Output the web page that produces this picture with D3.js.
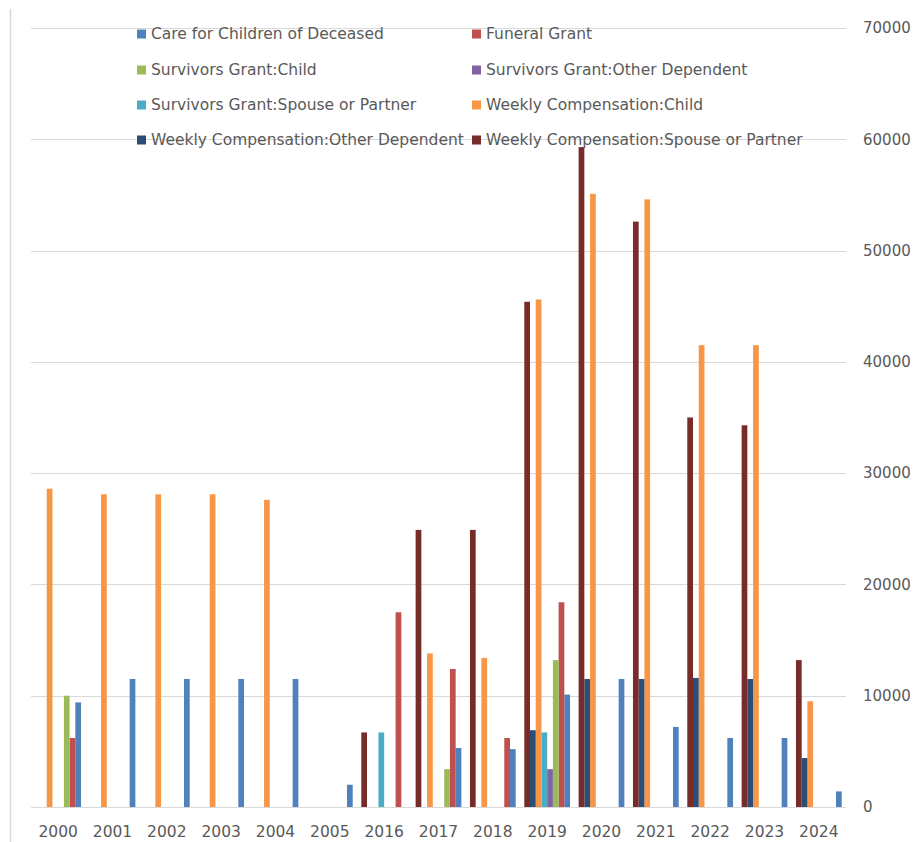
<!DOCTYPE html>
<html>
<head>
<meta charset="utf-8">
<script src="https://cdn.jsdelivr.net/npm/d3@7"></script>
<style>
  html, body { margin: 0; padding: 0; background: #fff; }
  svg { display: block; }
  text { font-family: "DejaVu Sans", sans-serif; fill: #595959; }
</style>
</head>
<body>
<svg id="chart" width="913" height="842"></svg>
<script>
// Categories on the x axis
const years = ["2000","2001","2002","2003","2004","2005","2016","2017","2018","2019","2020","2021","2022","2023","2024"];

// Series names, in legend order
const seriesNames = [
  "Care for Children of Deceased",
  "Funeral Grant",
  "Survivors Grant:Child",
  "Survivors Grant:Other Dependent",
  "Survivors Grant:Spouse or Partner",
  "Weekly Compensation:Child",
  "Weekly Compensation:Other Dependent",
  "Weekly Compensation:Spouse or Partner"
];
const seriesColors = ["#4F81BD","#C0504D","#9BBB59","#8064A2","#4BACC6","#F79646","#2C4D75","#772C2A"];

// Values per year (null = no entry)
const careForChildren   = [9400, 11500, 11500, 11500, 11500, 2000, null, 5300, 5200, 10100, 11500, 7200, 6200, 6200, 1400];
const funeralGrant      = [6200, null, null, null, null, null, 17500, 12400, 6200, 18400, null, null, null, null, null];
const sgChild           = [10000, null, null, null, null, null, null, 3400, null, 13200, null, null, null, null, null];
const sgOtherDependent  = [null, null, null, null, null, null, null, null, null, 3400, null, null, null, null, null];
const sgSpouse          = [null, null, null, null, null, null, 6700, null, null, 6700, null, null, null, null, null];
const wcChild           = [28600, 28100, 28100, 28100, 27600, null, null, 13800, 13400, 45600, 55100, 54600, 41500, 41500, 9500];
const wcOtherDependent  = [null, null, null, null, null, null, null, null, null, 6900, 11500, 11500, 11600, 11500, 4400];
const wcSpouse          = [null, null, null, null, null, null, 6700, 24900, 24900, 45400, 59300, 52600, 35000, 34300, 13200];

const seriesValues = [careForChildren, funeralGrant, sgChild, sgOtherDependent, sgSpouse, wcChild, wcOtherDependent, wcSpouse];

const yTicks = [0, 10000, 20000, 30000, 40000, 50000, 60000, 70000];

const svg = d3.select("#chart");

// Plot geometry
const plot = { left: 31, right: 846, top: 28, bottom: 807 };

const x0 = d3.scaleBand().domain(years).range([plot.left, plot.right]).paddingInner(0).paddingOuter(0);
// Columns within each year are drawn in reverse series order
const x1 = d3.scaleBand()
  .domain(d3.range(seriesNames.length).reverse())
  .range([0, x0.bandwidth()])
  .paddingInner(0)
  .paddingOuter(0.75);
const y = d3.scaleLinear().domain([0, 70000]).range([plot.bottom, plot.top]);

// Left frame line
svg.append("line")
  .attr("x1", 10.5).attr("x2", 10.5).attr("y1", 9).attr("y2", 842)
  .attr("stroke", "#d9d9d9").attr("stroke-width", 1.5);

// Horizontal gridlines
svg.append("g").selectAll("line")
  .data(yTicks)
  .join("line")
  .attr("x1", plot.left).attr("x2", plot.right)
  .attr("y1", d => Math.round(y(d)) + 0.5).attr("y2", d => Math.round(y(d)) + 0.5)
  .attr("stroke", "#d9d9d9").attr("stroke-width", 1.2);

// Right-side value axis
const yAxis = d3.axisRight(y).tickValues(yTicks).tickSize(0).tickPadding(0).tickFormat(d3.format("d"));
svg.append("g")
  .attr("transform", `translate(${plot.right + 17},0)`)
  .call(yAxis)
  .call(g => g.select(".domain").remove())
  .call(g => g.selectAll("text").attr("font-size", 15).attr("fill", "#595959").attr("font-family", "DejaVu Sans, sans-serif"));

// Category axis
const xAxis = d3.axisBottom(x0).tickSize(0).tickPadding(0);
svg.append("g")
  .attr("transform", `translate(0,${plot.bottom + 19})`)
  .call(xAxis)
  .call(g => g.select(".domain").remove())
  .call(g => g.selectAll("text").attr("font-size", 15.5).attr("fill", "#595959").attr("font-family", "DejaVu Sans, sans-serif"));

// Columns
const barData = [];
seriesValues.forEach((vals, si) => {
  vals.forEach((v, yi) => {
    if (v != null) barData.push({ s: si, year: years[yi], value: v });
  });
});

svg.append("g").selectAll("rect")
  .data(barData)
  .join("rect")
  .attr("x", d => x0(d.year) + x1(d.s))
  .attr("width", x1.bandwidth())
  .attr("y", d => y(d.value))
  .attr("height", d => y(0) - y(d.value))
  .attr("fill", d => seriesColors[d.s]);

// Legend (two columns, drawn over the plot)
const legendCols = [137, 472];
const legendRowY = [34, 70, 105, 140];
const legend = svg.append("g").selectAll("g")
  .data(seriesNames)
  .join("g")
  .attr("transform", (d, i) => `translate(${legendCols[i % 2]},${legendRowY[Math.floor(i / 2)]})`);
legend.append("rect")
  .attr("x", 0).attr("y", -4.5).attr("width", 9).attr("height", 9)
  .attr("fill", (d, i) => seriesColors[i]);
legend.append("text")
  .attr("x", 14).attr("y", 0).attr("dy", "0.35em")
  .attr("font-size", 15.5)
  .text(d => d);
</script>
</body>
</html>
